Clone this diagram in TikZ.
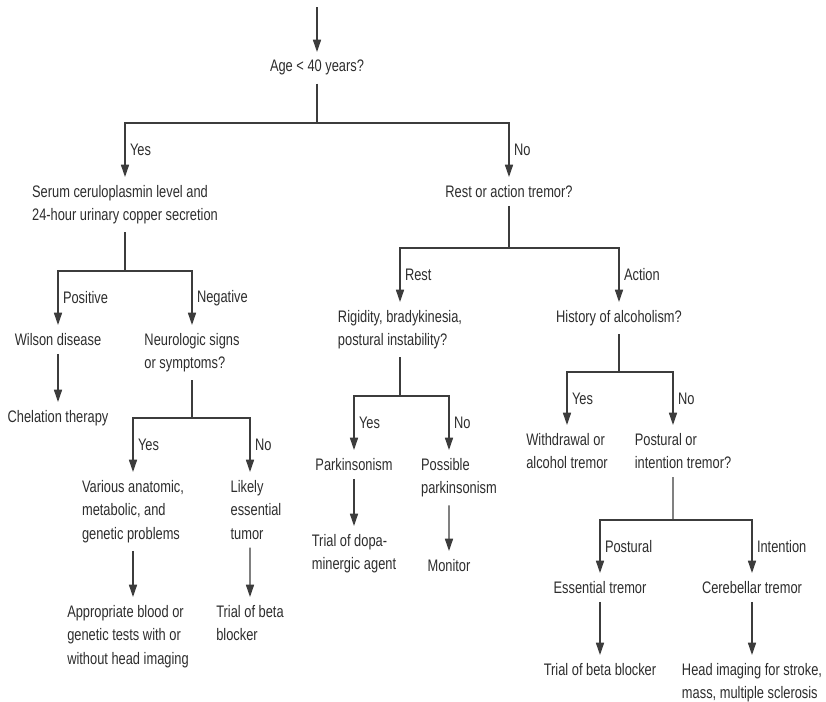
\documentclass[tikz,border=0pt]{standalone}
\usepackage{fontspec}
\setmainfont{Liberation Sans}[FakeStretch=0.77]
\usepackage{tikz}
\usetikzlibrary{arrows.meta,positioning}
\definecolor{ink}{RGB}{45,45,45}
\definecolor{wire}{RGB}{60,60,60}

\begin{document}
\begin{tikzpicture}[x=0.02cm,y=-0.02cm,
  font=\fontsize{9.5}{13.3}\selectfont,text=ink,
  box/.style={align=left,anchor=north,inner xsep=0pt,inner ysep=4.5pt},
  wireline/.style={draw=wire,line width=0.7pt},
  arr/.style={wireline,-{Triangle[length=7pt,width=4.6pt]}},
  lbl/.style={pos=0.75,anchor=west,inner xsep=2.5pt}]

  \useasboundingbox (0,0) rectangle (826,701);

  %,  Decision nodes, 
  \node[box] (age)   at (317,52)  {Age < 40 years?};
  \node[box] (serum) at (125,177) {Serum ceruloplasmin level and\\24-hour urinary copper secretion};
  \node[box] (rest)  at (509,177) {Rest or action tremor?};
  \node[box] (wilson) at (58,325) {Wilson disease};
  \node[box] (neuro) at (192,325) {Neurologic signs\\or symptoms?};
  \node[box] (chel)  at (58,402)  {Chelation therapy};
  \node[box] (various) at (133,472) {Various anatomic,\\metabolic, and\\genetic problems};
  \node[box] (likely) at (256,472) {Likely\\essential\\tumor};
  \node[box] (approp) at (128,597) {Appropriate blood or\\genetic tests with or\\without head imaging};
  \node[box] (betaL) at (250,597) {Trial of beta\\blocker};
  \node[box] (rigid) at (400,302) {Rigidity, bradykinesia,\\postural instability?};
  \node[box] (hist)  at (619,302) {History of alcoholism?};
  \node[box] (park)  at (354,450) {Parkinsonism};
  \node[box] (poss)  at (459,450) {Possible\\parkinsonism};
  \node[box] (dopa)  at (354,526) {Trial of dopa-\\minergic agent};
  \node[box] (monitor) at (449,551) {Monitor};
  \node[box] (withd) at (567,425) {Withdrawal or\\alcohol tremor};
  \node[box] (post)  at (683,425) {Postural or\\intention tremor?};
  \node[box] (ess)   at (600,573) {Essential tremor};
  \node[box] (cereb) at (752,573) {Cerebellar tremor};
  \node[box] (betaR) at (600,655) {Trial of beta blocker};
  \node[box] (head)  at (752,655) {Head imaging for stroke,\\mass, multiple sclerosis};

  %,  Branch points, 
  \coordinate (top) at (317,7);
  \foreach \n/\x/\y in {j0/317/123, j1/125/271, j2/192/418, j3/509/248,
                        j4/400/396, j5/619/372, j6/673/520}
    \coordinate (\n) at (\x,\y);

  %,  Connectors, 
  \draw[arr] (top) -- (age);
  \draw[wireline] (age) -- (j0);
  \draw[arr] (j0) -| node[lbl] {Yes} (serum);
  \draw[arr] (j0) -| node[lbl] {No} (rest);

  \draw[wireline] (serum) -- (j1);
  \draw[arr] (j1) -| node[lbl] {Positive} (wilson);
  \draw[arr] (j1) -| node[lbl] {Negative} (neuro);
  \draw[arr] (wilson) -- (chel);

  \draw[wireline] (neuro) -- (j2);
  \draw[arr] (j2) -| node[lbl] {Yes} (various);
  \draw[arr] (j2) -| node[lbl] {No} ([xshift=-0.12cm]likely.north);
  \draw[arr] (various.south) -- (various.south |- approp.north);
  \draw[arr] ([xshift=-0.12cm]likely.south) -- (betaL);

  \draw[wireline] (rest) -- (j3);
  \draw[arr] (j3) -| node[lbl] {Rest} (rigid);
  \draw[arr] (j3) -| node[lbl] {Action} (hist);

  \draw[wireline] (rigid) -- (j4);
  \draw[arr] (j4) -| node[lbl] {Yes} (park);
  \draw[arr] (j4) -| node[lbl] {No} ([xshift=-0.2cm]poss.north);
  \draw[arr] (park) -- (dopa);
  \draw[arr] ([xshift=-0.2cm]poss.south) -- (monitor);

  \draw[wireline] (hist) -- (j5);
  \draw[arr] (j5) -| node[lbl] {Yes} (withd);
  \draw[arr] (j5) -| node[lbl] {No} ([xshift=-0.2cm]post.north);

  \draw[wireline] ([xshift=-0.2cm]post.south) -- (j6);
  \draw[arr] (j6) -| node[lbl] {Postural} (ess);
  \draw[arr] (j6) -| node[lbl] {Intention} (cereb);
  \draw[arr] (ess) -- (betaR);
  \draw[arr] (cereb) -- (head);

\end{tikzpicture}
\end{document}
